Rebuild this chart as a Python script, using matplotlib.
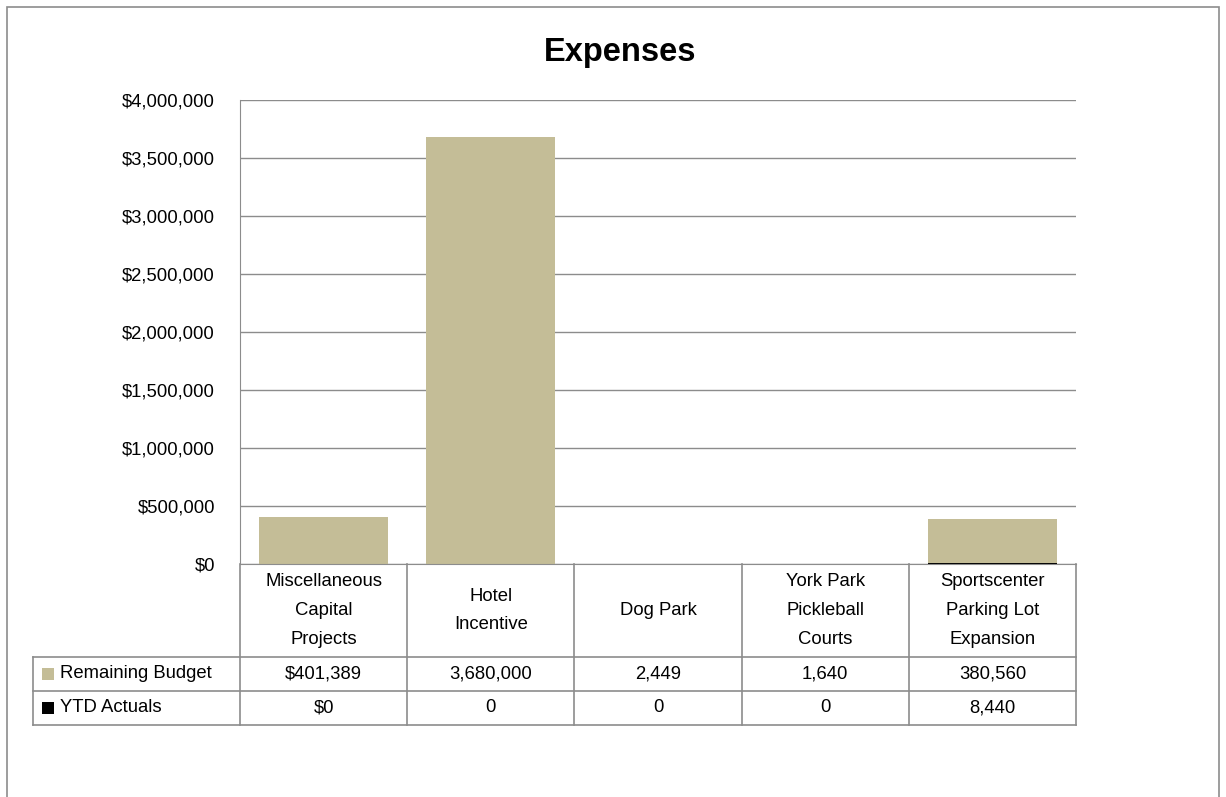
import matplotlib.pyplot as plt
from matplotlib.lines import Line2D
from matplotlib.patches import Rectangle
from matplotlib.ticker import FuncFormatter

plt.rcParams["font.family"] = ["Liberation Sans", "DejaVu Sans"]

categories = ["Miscellaneous\nCapital\nProjects", "Hotel\nIncentive", "Dog Park",
              "York Park\nPickleball\nCourts", "Sportscenter\nParking Lot\nExpansion"]
remaining_budget = [401389, 3680000, 2449, 1640, 380560]
ytd_actuals = [0, 0, 0, 0, 8440]
remaining_labels = ["$401,389", "3,680,000", "2,449", "1,640", "380,560"]
ytd_labels = ["$0", "0", "0", "0", "8,440"]
series_names = ["Remaining Budget", "YTD Actuals"]

W, H = 1226, 797
TAN = "#C4BD97"
GRID = "#8C8C8C"
FS = 13.3


def fx(x):
    return x / W


def fy(y):
    return 1 - y / H


fig = plt.figure(figsize=(W / 100, H / 100), dpi=100)

# outer chart border
fig.add_artist(Rectangle((fx(7), fy(800)), fx(1219) - fx(7), fy(7) - fy(800),
                         fill=False, edgecolor="#8C8C8C", linewidth=1.2))

left, right, top, bottom = 240, 1076, 100, 564
ax = fig.add_axes([fx(left), fy(bottom), fx(right) - fx(left), fy(top) - fy(bottom)])

x = range(len(categories))
ax.bar(x, ytd_actuals, width=0.77, color="black")
ax.bar(x, remaining_budget, width=0.77, bottom=ytd_actuals, color=TAN)

ax.set_xlim(-0.5, len(categories) - 0.5)
ax.set_ylim(0, 4000000)
ax.set_yticks(range(0, 4000001, 500000))
ax.yaxis.set_major_formatter(FuncFormatter(lambda v, p: f"${v:,.0f}"))
ax.set_xticks([])
ax.tick_params(axis="y", length=0, pad=18, labelsize=FS)
ax.grid(axis="y", color=GRID, linewidth=1)
ax.set_axisbelow(True)
for s in ["top", "right"]:
    ax.spines[s].set_visible(False)
ax.spines["left"].set_color(GRID)
ax.spines["bottom"].set_color(GRID)

fig.text(fx(620), fy(52), "Expenses", ha="center", va="center",
         fontsize=23.5, fontweight="bold")

# data table
col_w = (right - left) / len(categories)
row_top, row1, row2, row3 = 564, 657, 691, 725
label_left = 33


def hline(y, x0, x1):
    fig.add_artist(Line2D([fx(x0), fx(x1)], [fy(y), fy(y)], color=GRID, linewidth=1.2))


def vline(x, y0, y1):
    fig.add_artist(Line2D([fx(x), fx(x)], [fy(y0), fy(y1)], color=GRID, linewidth=1.2))


for y in [row1, row2, row3]:
    hline(y, label_left, right)
for i in range(len(categories) + 1):
    vline(left + i * col_w, row_top, row3)
vline(label_left, row1, row3)

for i, cat in enumerate(categories):
    cx = left + (i + 0.5) * col_w
    fig.text(fx(cx), fy((row_top + row1) / 2), cat, ha="center", va="center",
             fontsize=FS, linespacing=1.9)
    fig.text(fx(cx), fy((row1 + row2) / 2), remaining_labels[i], ha="center",
             va="center", fontsize=FS)
    fig.text(fx(cx), fy((row2 + row3) / 2), ytd_labels[i], ha="center",
             va="center", fontsize=FS)

for name, color, (y0, y1) in zip(series_names, [TAN, "black"], [(row1, row2), (row2, row3)]):
    cy = (y0 + y1) / 2
    fig.add_artist(Rectangle((fx(42), fy(cy + 6)), fx(12), fy(0) - fy(12),
                             facecolor=color, edgecolor="none"))
    fig.text(fx(60), fy(cy), name, ha="left", va="center", fontsize=FS)

fig.savefig("out.png", dpi=100)
